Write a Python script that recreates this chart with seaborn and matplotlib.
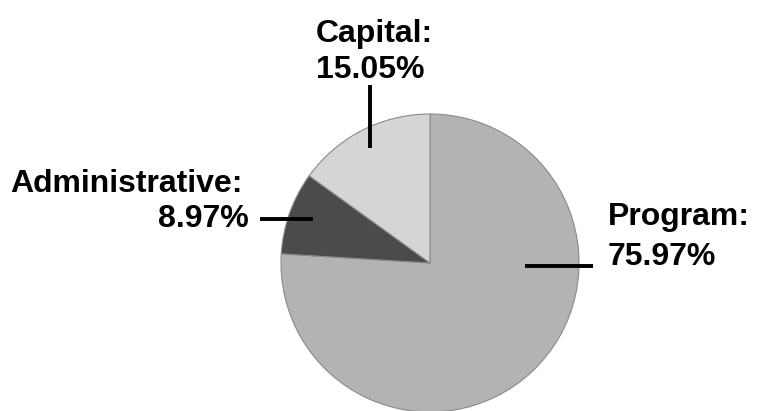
import matplotlib
matplotlib.use("Agg")
import matplotlib.pyplot as plt
import seaborn as sns

# -----------------------------------
# DATA
# -----------------------------------

categories = ["Program", "Administrative", "Capital"]
shares = [75.97, 8.97, 15.05]
colors = ["#b3b3b3", "#4b4b4b", "#d5d5d5"]

# -----------------------------------
# STYLE
# -----------------------------------

sns.set_style("white")
plt.rcParams['font.family'] = ['Liberation Sans', 'DejaVu Sans']

W, H = 767, 411
fig = plt.figure(figsize=(W / 100, H / 100), dpi=100)
ax = fig.add_axes([0, 0, 1, 1])

# -----------------------------------
# PIE
# -----------------------------------

cx, cy, r = 430, H - 263, 149
ax.pie(shares, colors=colors, startangle=90, counterclock=False,
       center=(cx, cy), radius=r, frame=True,
       wedgeprops=dict(edgecolor="#8a8a8a", linewidth=0.8))
ax.set_xlim(0, W)
ax.set_ylim(0, H)
ax.set_aspect('equal')
ax.axis('off')

# -----------------------------------
# LABELS (pixel positions, y from top)
# -----------------------------------

fs = 23
label_pos = {
    "Program": dict(x1=608, x2=608, y1=225, y2=265, ha="left"),
    "Administrative": dict(x1=243, x2=249, y1=192, y2=227, ha="right"),
    "Capital": dict(x1=316, x2=316, y1=42, y2=78, ha="left"),
}
leader = {
    "Program": ([525, 593], [266, 266]),
    "Administrative": ([260, 313], [219, 219]),
    "Capital": ([370, 370], [85, 148]),
}

for cat, val in zip(categories, shares):
    p = label_pos[cat]
    ax.text(p["x1"], H - p["y1"], f"{cat}:", ha=p["ha"], va="baseline",
            fontsize=fs, fontweight="bold", color="black")
    ax.text(p["x2"], H - p["y2"], f"{val:.2f}%", ha=p["ha"], va="baseline",
            fontsize=fs, fontweight="bold", color="black")
    xs, ys = leader[cat]
    ax.plot(xs, [H - y for y in ys], color="black", linewidth=2.8,
            solid_capstyle="butt")

fig.savefig("out.png", dpi=100)
